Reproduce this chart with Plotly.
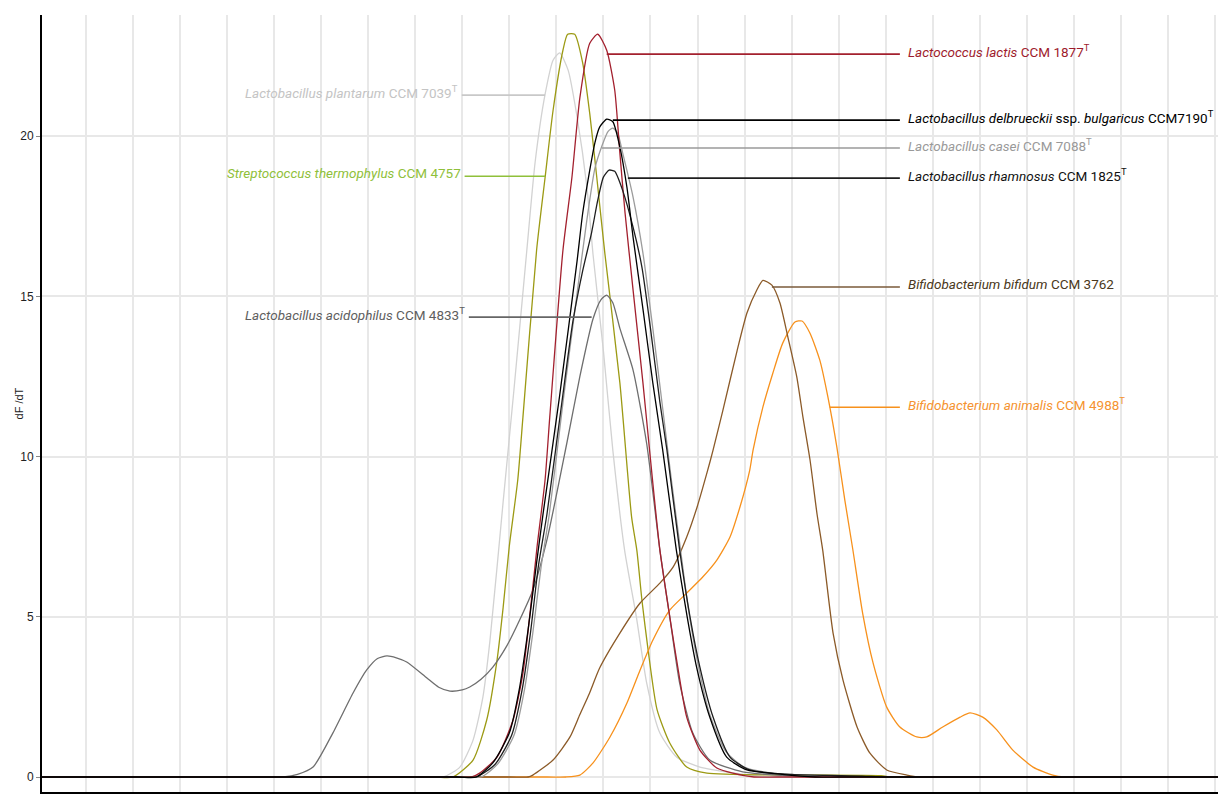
import plotly.graph_objects as go

# ---------------- data (temperature-like x, dF/dT y) ----------------
X_MIN, X_MAX = 64.07, 89.06

plantarum_x = [X_MIN, 72.2, 72.6, 72.95, 73.23, 73.44, 73.59, 73.87, 74.1, 74.37, 74.55, 74.76, 74.93, 75.07, 75.25, 75.44, 75.65, 75.78, 76.0, 76.2, 76.45, 76.7, 76.92, 77.2, 77.56, 78.05, 78.8, 79.5, 80.0, X_MAX]
plantarum_y = [0, 0, 0, 0.31, 1.15, 2.5, 4.27, 8.6, 12.1, 16.4, 19.2, 21.3, 22.37, 22.6, 22.06, 20.6, 18.4, 16.3, 13.3, 10.2, 7.08, 5.0, 2.93, 1.37, 0.62, 0.31, 0.12, 0, 0, 0]

thermo_x = [X_MIN, 72.4, 72.8, 73.23, 73.52, 73.74, 73.87, 74.0, 74.18, 74.29, 74.58, 74.76, 74.93, 75.14, 75.24, 75.39, 75.56, 75.71, 75.86, 76.03, 76.35, 76.6, 76.71, 76.82, 76.95, 77.14, 77.41, 77.77, 78.2, 80.0, 81.9, 82.1, 82.6, X_MAX]
thermo_y = [0, 0, 0, 0.53, 1.78, 3.65, 5.3, 7.2, 9.27, 11.23, 16.44, 18.7, 20.8, 22.68, 23.18, 23.18, 22.28, 20.7, 18.7, 16.35, 12.3, 8.1, 7.08, 5.5, 3.96, 2.1, 1.06, 0.31, 0.12, 0.06, 0.04, 0, 0, 0]

lactis_x = [X_MIN, 72.8, 73.2, 73.37, 73.74, 74.08, 74.29, 74.44, 74.59, 74.76, 74.86, 75.14, 75.33, 75.5, 75.71, 75.88, 76.07, 76.24, 76.35, 76.46, 76.63, 76.84, 77.05, 77.2, 77.41, 77.58, 77.77, 78.05, 78.41, 78.75, 79.2, 79.7, X_MAX]
lactis_y = [0, 0, 0, 0.12, 0.62, 1.78, 3.24, 5.1, 7.18, 9.27, 11.23, 16.44, 18.7, 21.2, 22.9, 23.18, 22.68, 21.44, 19.47, 17.6, 15.2, 12.3, 9.17, 7.08, 5.0, 3.43, 1.87, 0.84, 0.28, 0.12, 0, 0, 0]

delbrueckii_x = [X_MIN, 72.9, 73.3, 73.65, 74.0, 74.22, 74.4, 74.58, 74.72, 75.07, 75.44, 75.56, 75.71, 75.82, 75.92, 76.07, 76.2, 76.35, 76.5, 76.63, 76.85, 77.05, 77.26, 77.55, 77.78, 77.98, 78.26, 78.62, 79.05, 79.8, 80.5, 81.0, X_MAX]
delbrueckii_y = [0, 0, 0, 0.44, 1.37, 2.8, 4.6, 6.68, 8.24, 11.9, 16.1, 17.6, 18.94, 19.8, 20.28, 20.53, 20.45, 19.66, 18.4, 16.85, 14.5, 12.3, 10.2, 7.08, 5.0, 3.43, 1.87, 0.62, 0.22, 0.08, 0, 0, 0]

casei_x = [X_MIN, 73.0, 73.4, 73.75, 74.1, 74.32, 74.5, 74.68, 74.85, 75.15, 75.45, 75.65, 75.82, 75.97, 76.1, 76.2, 76.3, 76.41, 76.63, 76.84, 77.05, 77.26, 77.45, 77.62, 77.8, 78.0, 78.25, 78.6, 79.0, 79.6, 80.4, 81.5, 82.0, X_MAX]
casei_y = [0, 0, 0, 0.4, 1.3, 2.7, 4.5, 6.6, 8.2, 11.8, 15.2, 17.4, 19.0, 19.7, 20.15, 20.25, 20.1, 19.47, 18.1, 16.35, 14.0, 11.5, 9.2, 7.3, 5.3, 3.6, 2.0, 0.8, 0.3, 0.12, 0.05, 0, 0, 0]

rhamnosus_x = [X_MIN, 72.9, 73.3, 73.7, 74.05, 74.27, 74.45, 74.62, 74.8, 75.1, 75.35, 75.56, 75.75, 75.88, 76.0, 76.12, 76.24, 76.41, 76.63, 76.82, 77.0, 77.2, 77.35, 77.62, 77.84, 78.05, 78.33, 78.69, 79.11, 80.0, 81.5, 82.0, X_MAX]
rhamnosus_y = [0, 0, 0, 0.4, 1.3, 2.7, 4.5, 6.6, 8.2, 11.5, 14.2, 15.8, 17.0, 18.0, 18.72, 18.94, 18.9, 18.3, 17.16, 15.9, 14.0, 11.7, 10.2, 7.08, 5.0, 3.43, 1.87, 0.62, 0.22, 0.08, 0.03, 0, 0]

acidophilus_x = [X_MIN, 68.8, 69.2, 69.5, 69.83, 70.25, 70.68, 70.97, 71.2, 71.4, 71.6, 71.82, 72.25, 72.5, 72.74, 73.0, 73.16, 73.4, 73.65, 73.95, 74.22, 74.5, 74.8, 75.22, 75.5, 75.78, 75.95, 76.07, 76.2, 76.35, 76.63, 76.92, 77.2, 77.41, 77.62, 77.9, 78.26, 78.96, 79.8, 80.5, 81.0, X_MAX]
acidophilus_y = [0, 0, 0, 0.08, 0.31, 1.37, 2.62, 3.34, 3.7, 3.78, 3.72, 3.59, 3.09, 2.8, 2.68, 2.72, 2.81, 3.05, 3.43, 4.1, 4.9, 5.83, 7.4, 10.4, 12.5, 14.3, 14.9, 15.04, 14.8, 14.0, 12.7, 10.4, 7.08, 5.0, 2.93, 1.37, 0.53, 0.16, 0.05, 0, 0, 0]

bifidum_x = [X_MIN, 74.0, 74.4, 74.5, 74.93, 75.29, 75.5, 75.7, 75.92, 76.35, 76.78, 77.2, 77.48, 77.77, 77.99, 78.2, 78.33, 78.54, 78.84, 79.05, 79.26, 79.39, 79.58, 79.75, 79.92, 80.11, 80.24, 80.39, 80.54, 80.66, 80.88, 81.09, 81.39, 81.66, 82.02, 82.45, 82.7, 83.2, X_MAX]
bifidum_y = [0, 0, 0, 0.06, 0.53, 1.25, 1.95, 2.6, 3.4, 4.49, 5.43, 6.05, 6.55, 7.49, 8.42, 9.49, 10.2, 11.45, 13.3, 14.48, 15.2, 15.5, 15.35, 14.8, 13.73, 12.48, 11.23, 9.9, 8.2, 7.08, 4.49, 3.03, 1.56, 0.75, 0.22, 0.06, 0, 0, 0]

animalis_x = [X_MIN, 74.8, 75.2, 75.5, 75.78, 76.14, 76.5, 76.78, 77.05, 77.41, 77.77, 78.11, 78.41, 78.69, 78.9, 79.11, 79.18, 79.39, 79.6, 79.81, 80.07, 80.22, 80.39, 80.6, 80.77, 80.96, 81.13, 81.3, 81.51, 81.73, 82.02, 82.3, 82.66, 82.87, 83.21, 83.58, 83.79, 84.06, 84.36, 84.7, 85.13, 85.55, 85.8, 86.3, X_MAX]
animalis_y = [0, 0, 0, 0.06, 0.44, 1.25, 2.31, 3.34, 4.27, 5.21, 5.74, 6.24, 6.77, 7.49, 8.42, 9.58, 10.2, 11.55, 12.6, 13.54, 14.2, 14.23, 13.85, 13.0, 11.86, 10.3, 8.64, 7.1, 5.1, 3.56, 2.18, 1.56, 1.25, 1.25, 1.56, 1.87, 2.0, 1.87, 1.47, 0.84, 0.31, 0.06, 0, 0, 0]

# ---------------- series styling + labels ----------------
series = [
    dict(label="<i>Lactobacillus plantarum</i> CCM 7039<sup>T</sup>", x=plantarum_x, y=plantarum_y,
         color="#d2d2d2", tcolor="#c4c4c4", lcolor="#c8c8c8", side="left", cx=74.76, ly=21.28, ex=72.99),
    dict(label="<i>Streptococcus thermophylus</i> CCM 4757", x=thermo_x, y=thermo_y,
         color="#9c9a14", tcolor="#8fc03a", lcolor="#8fc03a", side="left", cx=74.76, ly=18.75, ex=73.05),
    dict(label="<i>Lactobacillus acidophilus</i> CCM 4833<sup>T</sup>", x=acidophilus_x, y=acidophilus_y,
         color="#6e6e6e", tcolor="#5e5e5e", lcolor="#666666", side="left", cx=75.75, ly=14.35, ex=73.14),
    dict(label="<i>Bifidobacterium animalis</i> CCM 4988<sup>T</sup>", x=animalis_x, y=animalis_y,
         color="#f7911c", tcolor="#f59330", lcolor="#f7911c", side="right", cx=80.81, ly=11.54, ex=82.30),
    dict(label="<i>Bifidobacterium bifidum</i> CCM 3762", x=bifidum_x, y=bifidum_y,
         color="#8b5a28", tcolor="#4a3820", lcolor="#7a5a3a", side="right", cx=79.58, ly=15.29, ex=82.30),
    dict(label="<i>Lactobacillus casei</i> CCM 7088<sup>T</sup>", x=casei_x, y=casei_y,
         color="#9c9c9c", tcolor="#999999", lcolor="#9a9a9a", side="right", cx=75.97, ly=19.63, ex=82.30),
    dict(label="<i>Lactococcus lactis</i> CCM 1877<sup>T</sup>", x=lactis_x, y=lactis_y,
         color="#a3202e", tcolor="#9e1b2c", lcolor="#a3202e", side="right", cx=76.07, ly=22.56, ex=82.30),
    dict(label="<i>Lactobacillus rhamnosus</i> CCM 1825<sup>T</sup>", x=rhamnosus_x, y=rhamnosus_y,
         color="#1e1e1e", tcolor="#111111", lcolor="#1e1e1e", side="right", cx=76.52, ly=18.69, ex=82.30),
    dict(label="<i>Lactobacillus delbrueckii</i> ssp. <i>bulgaricus</i> CCM7190<sup>T</sup>", x=delbrueckii_x, y=delbrueckii_y,
         color="#000000", tcolor="#000000", lcolor="#000000", side="right", cx=76.2, ly=20.5, ex=82.30),
]

FONT = "Roboto, Liberation Sans, sans-serif"

fig = go.Figure()
for s in series:
    fig.add_trace(go.Scatter(x=s["x"], y=s["y"], mode="lines",
                             line=dict(color=s["color"], width=1.3, shape="spline", smoothing=0.6),
                             hoverinfo="skip", showlegend=False))
for s in series:
    fig.add_trace(go.Scatter(x=[s["ex"], s["cx"]], y=[s["ly"], s["ly"]], mode="lines",
                             line=dict(color=s["lcolor"], width=1.6),
                             hoverinfo="skip", showlegend=False))
    fig.add_annotation(x=s["ex"], y=s["ly"], text=s["label"], showarrow=False,
                       xanchor="right" if s["side"] == "left" else "left",
                       xshift=-2 if s["side"] == "left" else 6, yshift=3, yanchor="middle",
                       font=dict(family=FONT, size=13.5, color=s["tcolor"]))

# y-axis title
fig.add_annotation(xref="paper", yref="paper", x=-0.0196, y=0.5, text="dF /dT", textangle=-90,
                   showarrow=False, xanchor="center", yanchor="middle",
                   font=dict(family="Arial, Liberation Sans, sans-serif", size=11, color="#222"))

fig.update_layout(
    width=1218, height=794,
    margin=dict(l=42, r=0, t=15, b=2, autoexpand=False),
    paper_bgcolor="white", plot_bgcolor="white",
    showlegend=False,
    xaxis=dict(range=[X_MIN, X_MAX], tick0=65, dtick=1, showticklabels=False, automargin=False,
               showgrid=True, gridcolor="#e8e8e8", gridwidth=1.5, zeroline=False,
               showline=True, linecolor="black", linewidth=2, ticks="outside", ticklen=3, tickcolor="black"),
    yaxis=dict(range=[-0.468, 23.78], tickvals=[0, 5, 10, 15, 20], automargin=False,
               showgrid=True, gridcolor="#e8e8e8", gridwidth=1.5, zeroline=False,
               showline=True, linecolor="black", linewidth=2, ticks="outside", ticklen=4, tickcolor="#888",
               tickfont=dict(family="Arial, Liberation Sans, sans-serif", size=12, color="#222")),
)

fig.write_html("out.html", config={"displayModeBar": False},
               post_script="document.body.style.margin='0';document.body.style.overflow='hidden';")
